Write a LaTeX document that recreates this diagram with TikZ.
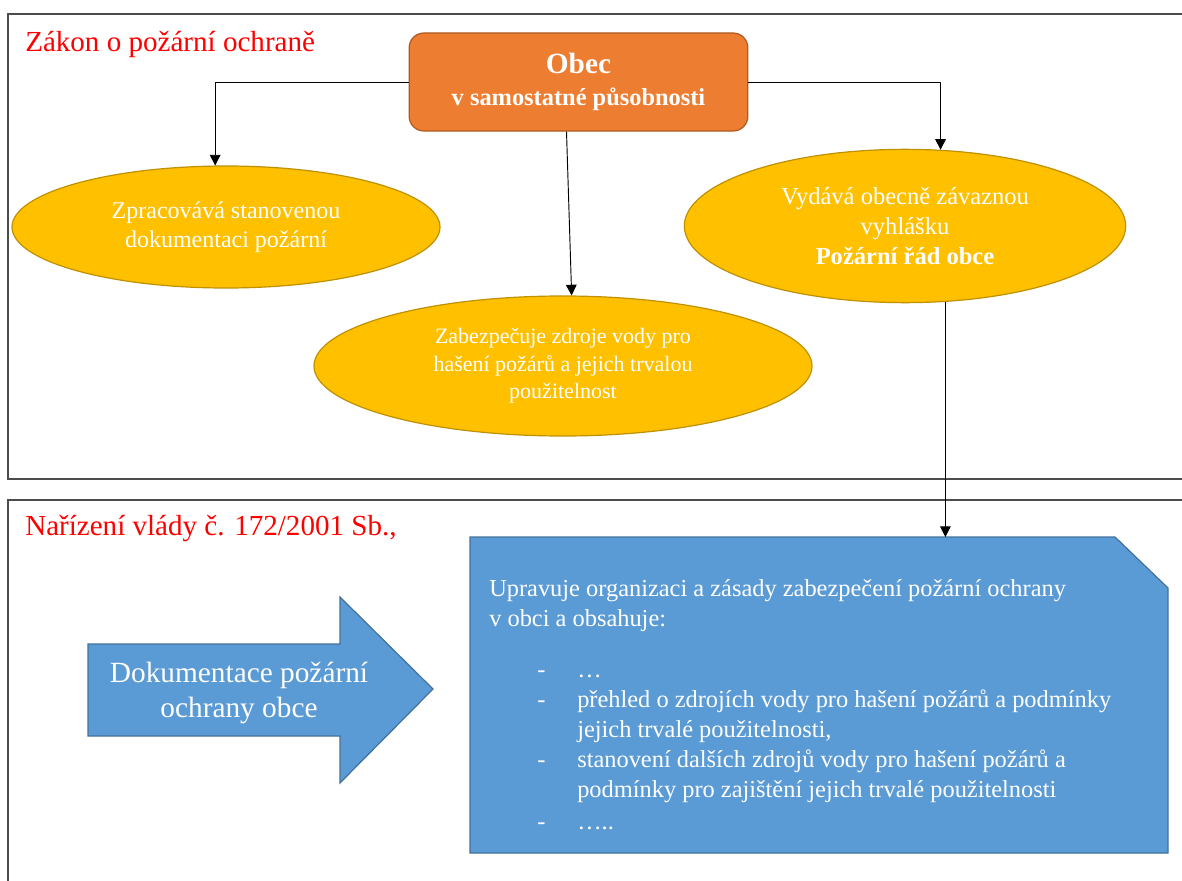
\documentclass[tikz,border=0pt]{standalone}
\usepackage{fontspec}
\setmainfont{Liberation Serif}
\usetikzlibrary{shapes.geometric,arrows.meta}

\definecolor{obecorange}{HTML}{ED7D31}
\definecolor{obecline}{HTML}{AE5A21}
\definecolor{dutygold}{HTML}{FFC000}
\definecolor{dutyline}{HTML}{BF9000}
\definecolor{boxblue}{HTML}{5B9BD5}
\definecolor{boxline}{HTML}{41719C}

\newcommand{\dashitem}{\makebox[66pt][l]{\hspace*{36pt}-}}
\newcommand{\itemcont}{\hspace*{66pt}}

\tikzset{
  sectionframe/.style={draw=black!70, line width=1.1pt},
  lawtitle/.style={text=red, anchor=base west, inner sep=0pt,
    font=\fontsize{21.8}{26}\selectfont},
  obecbox/.style={rectangle, rounded corners=11pt, fill=obecorange,
    draw=obecline, line width=0.9pt, minimum width=254pt,
    minimum height=73.5pt, text=white, align=center, inner sep=0pt},
  dutyell/.style={ellipse, fill=dutygold, draw=dutyline, line width=0.9pt,
    text=white, align=center, inner sep=0pt},
  conn/.style={draw=black, line width=0.7pt,
    -{Triangle[width=8pt,length=8pt]}},
  bluefill/.style={fill=boxblue, draw=boxline, line width=0.9pt}
}

\begin{document}
\begin{tikzpicture}[x=0.75pt,y=-0.75pt]
  \useasboundingbox (0,0) rectangle (1182,881);

  % the two sections
  \draw[sectionframe] (1195,14) -- (8,14) -- (8,479) -- (1195,479);
  \draw[sectionframe] (1195,500) -- (8,500) -- (8,895);

  \node[lawtitle] (zakon) at (25,52) {Zákon o požární ochraně};
  \node[lawtitle] (narizeni) at (25,535) {Nařízení vlády č. 172/2001 Sb.,};

  % obec and its tasks
  \node[obecbox] (obec) at (578.5,82)
    {{\fontsize{22}{24}\selectfont\bfseries Obec}\\[10pt]
     {\fontsize{18.3}{22}\selectfont\bfseries v samostatné působnosti}};

  \node[dutyell, minimum width=321pt, minimum height=91.5pt,
    font=\fontsize{18}{22}\selectfont] (zpracovava) at (226,227)
    {Zpracovává stanovenou\\dokumentaci požární};
  \node[dutyell, minimum width=373.5pt, minimum height=105pt,
    font=\fontsize{16.5}{20.6}\selectfont] (zabezpecuje) at (563,366)
    {Zabezpečuje zdroje vody pro\\hašení požárů a jejich trvalou\\použitelnost};
  \node[dutyell, minimum width=331pt, minimum height=115pt,
    font=\fontsize{18.4}{22.5}\selectfont] (vydava) at (905,226)
    {Vydává obecně závaznou\\vyhlášku\\\textbf{Požární řád obce}};

  \draw[conn] (obec.west) -| (zpracovava.100);
  \draw[conn] ([xshift=-9pt]obec.south) -- (zabezpecuje.83);
  \draw[conn] (obec.east) -| (vydava.65);

  % nariadenie
  \coordinate (bluenw) at (470,537);
  \draw[bluefill] (bluenw) -- (1115,537) -- (1168,588) -- (1168,853)
    -- (470,853) -- cycle;
  \node[anchor=north west, align=left, text=white, inner sep=0pt,
    font=\fontsize{18.3}{22.5}\selectfont] (upravuje) at (489,579)
    {Upravuje organizaci a zásady zabezpečení požární ochrany\\
     v obci a obsahuje:\\[16pt]
     \dashitem …\\
     \dashitem přehled o zdrojích vody pro hašení požárů a podmínky\\
     \itemcont jejich trvalé použitelnosti,\\
     \dashitem stanovení dalších zdrojů vody pro hašení požárů a\\
     \itemcont podmínky pro zajištění jejich trvalé použitelnosti\\[1.5pt]
     \dashitem …..};

  \draw[conn] (vydava.-62) -- (vydava.-62 |- bluenw);

  \draw[bluefill] (88,644) -- (340,644) -- (340,597) -- (433,689)
    -- (340,783) -- (340,736) -- (88,736) -- cycle;
  \node[text=white, align=center, inner sep=0pt,
    font=\fontsize{22}{26}\selectfont] (dokumentace) at (239,693)
    {Dokumentace požární\\ochrany obce};
\end{tikzpicture}
\end{document}
